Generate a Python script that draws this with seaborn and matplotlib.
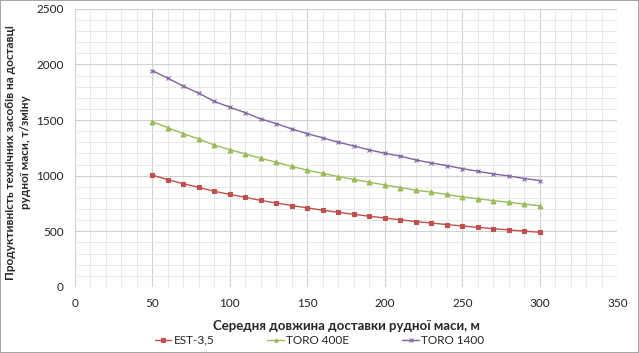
import pandas as pd
import numpy as np
import matplotlib.pyplot as plt
import seaborn as sns
from matplotlib.ticker import MultipleLocator

# delivery distance, m
distance = list(range(50, 301, 10))

# productivity, t/shift
est_35 = [1005, 965, 928, 895, 860, 832, 806, 778, 755, 732, 711, 690, 671,
          653, 636, 620, 604, 588, 575, 561, 548, 536, 524, 513, 502, 492]
toro_400e = [1487, 1432, 1378, 1330, 1276, 1234, 1196, 1156, 1121, 1084, 1050,
             1021, 992, 967, 942, 917, 894, 870, 852, 832, 810, 793, 776, 761,
             745, 730]
toro_1400 = [1945, 1877, 1805, 1742, 1668, 1616, 1567, 1510, 1469, 1420, 1378,
             1340, 1301, 1268, 1232, 1202, 1176, 1142, 1115, 1091, 1064, 1040,
             1016, 998, 975, 956]

series_names = ['EST-3,5', 'TORO 400E', 'TORO 1400']
colors = ['#C0504D', '#9BBB59', '#8064A2']
markers = ['s', '^', 'x']

sns.set_style('white')
plt.rcParams['font.family'] = ['Lato', 'DejaVu Sans']

fig = plt.figure(figsize=(6.39, 3.53), dpi=100)
ax = fig.add_axes([0.117, 0.187, 0.849, 0.788])

for name, vals, c, m in zip(series_names, [est_35, toro_400e, toro_1400], colors, markers):
    d = pd.DataFrame({'dist': distance, 'prod': vals})
    sns.lineplot(data=d, x='dist', y='prod', color=c, marker=m, markersize=3.5,
                 markeredgecolor=c, markeredgewidth=0.8, linewidth=1.0,
                 label=name, ax=ax)

ax.set_xlim(0, 350)
ax.set_ylim(0, 2500)
ax.xaxis.set_major_locator(MultipleLocator(50))
ax.xaxis.set_minor_locator(MultipleLocator(10))
ax.yaxis.set_major_locator(MultipleLocator(500))
ax.yaxis.set_minor_locator(MultipleLocator(100))
ax.grid(which='major', color='#D0D0D0', linewidth=0.8)
ax.grid(which='minor', color='#E8E8E8', linewidth=0.7)
ax.set_axisbelow(True)
for s in ax.spines.values():
    s.set_visible(False)
ax.tick_params(which='both', length=0, labelsize=8.5, colors='#222222', pad=8)

ax.set_xlabel('Середня довжина доставки рудної маси, м', fontsize=9.5,
              fontweight='bold', labelpad=8)
ax.set_ylabel('Продуктивність технічних засобів на доставці\nрудної маси, т/зміну',
              fontsize=8.5, fontweight='bold', labelpad=3, linespacing=1.45)
ax.yaxis.set_label_coords(-0.08, 0.485)

handles, labels = ax.get_legend_handles_labels()
ax.get_legend().remove()
fig.legend(handles, labels, loc='lower center', ncol=3, frameon=False,
           fontsize=8.5, bbox_to_anchor=(0.5, -0.01), handlelength=1.4,
           handletextpad=0.2, columnspacing=4.5, markerscale=0.7)

fig.patch.set_edgecolor('#A6A6A6')
fig.patch.set_linewidth(1.2)
fig.savefig('out.png', dpi=100, edgecolor=fig.get_edgecolor())
